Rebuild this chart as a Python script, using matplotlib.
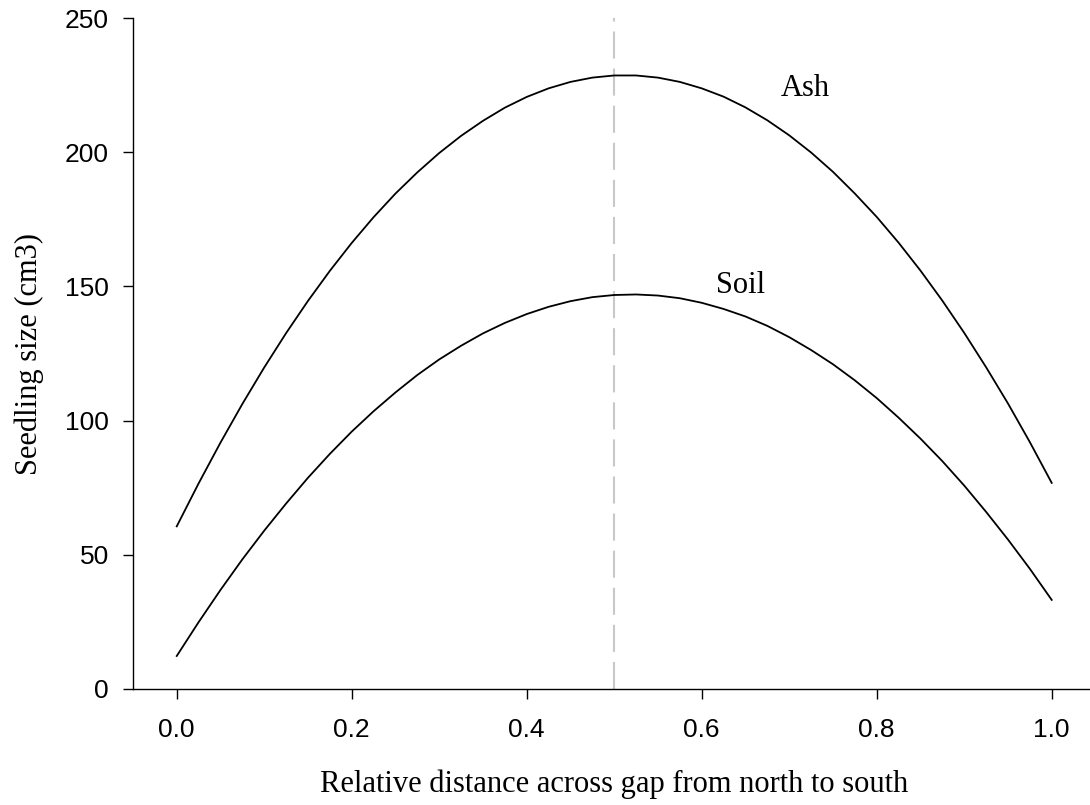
import numpy as np
import matplotlib.pyplot as plt

# relative distance across the gap (north -> south)
dist = [0.000, 0.025, 0.050, 0.075, 0.100, 0.125, 0.150, 0.175, 0.200, 0.225,
        0.250, 0.275, 0.300, 0.325, 0.350, 0.375, 0.400, 0.425, 0.450, 0.475,
        0.500, 0.525, 0.550, 0.575, 0.600, 0.625, 0.650, 0.675, 0.700, 0.725,
        0.750, 0.775, 0.800, 0.825, 0.850, 0.875, 0.900, 0.925, 0.950, 0.975,
        1.000]

# seedling size (cm3)
ash = [60.6, 76.6, 91.8, 106.2, 119.8, 132.6, 144.6, 155.8, 166.2, 175.8,
       184.6, 192.5, 199.7, 206.1, 211.7, 216.6, 220.6, 223.8, 226.2, 227.8,
       228.6, 228.6, 227.8, 226.2, 223.8, 220.7, 216.7, 211.9, 206.3, 199.9,
       192.7, 184.6, 175.9, 166.3, 155.9, 144.7, 132.7, 119.9, 106.4, 92.0,
       76.8]
soil = [12.3, 24.9, 36.9, 48.3, 59.0, 69.1, 78.7, 87.6, 95.9, 103.5,
        110.5, 117.0, 122.8, 127.9, 132.5, 136.4, 139.7, 142.4, 144.5, 146.0,
        146.8, 147.0, 146.6, 145.6, 143.9, 141.6, 138.8, 135.3, 131.1, 126.3,
        121.0, 115.0, 108.4, 101.1, 93.3, 84.9, 75.8, 66.0, 55.7, 44.8,
        33.2]

gap_centre = 0.5
xticks = [0.0, 0.2, 0.4, 0.6, 0.8, 1.0]
yticks = [0, 50, 100, 150, 200, 250]

serif = "Liberation Serif"
sans = "Liberation Sans"

fig = plt.figure(figsize=(10.9, 8.05), dpi=100)
ax = fig.add_axes([0.122, 0.1441, 0.883, 0.8335])

ax.axvline(gap_centre, color="#c8c8c8", lw=1.5, dashes=(13, 4.8), zorder=1)
ax.plot(dist, ash, color="black", lw=1.3, zorder=2)
ax.plot(dist, soil, color="black", lw=1.3, zorder=2)

ax.text(0.7185, 221, "Ash", family=serif, fontsize=22, ha="center", va="baseline")
ax.text(0.6443, 147.6, "Soil", family=serif, fontsize=22, ha="center", va="baseline")

ax.set_xlim(-0.05, 1.05)
ax.set_ylim(0, 250)
ax.set_xticks(xticks)
ax.set_xticklabels([f"{t:.1f}" for t in xticks])
ax.set_yticks(yticks)

for side in ["top", "right"]:
    ax.spines[side].set_visible(False)
for side in ["left", "bottom"]:
    ax.spines[side].set_linewidth(1.0)

ax.tick_params(axis="both", direction="out", length=7.2, width=1.0, labelsize=19)
ax.tick_params(axis="x", pad=14)
ax.tick_params(axis="y", pad=10)
for lab in ax.get_xticklabels() + ax.get_yticklabels():
    lab.set_family(sans)

ax.set_xlabel("Relative distance across gap from north to south", family=serif, fontsize=22)
ax.set_ylabel("Seedling size (cm3)", family=serif, fontsize=22)
ax.xaxis.set_label_coords(0.5, -0.12)
ax.yaxis.set_label_coords(-0.092, 0.5)

fig.savefig("out.png", dpi=100)
